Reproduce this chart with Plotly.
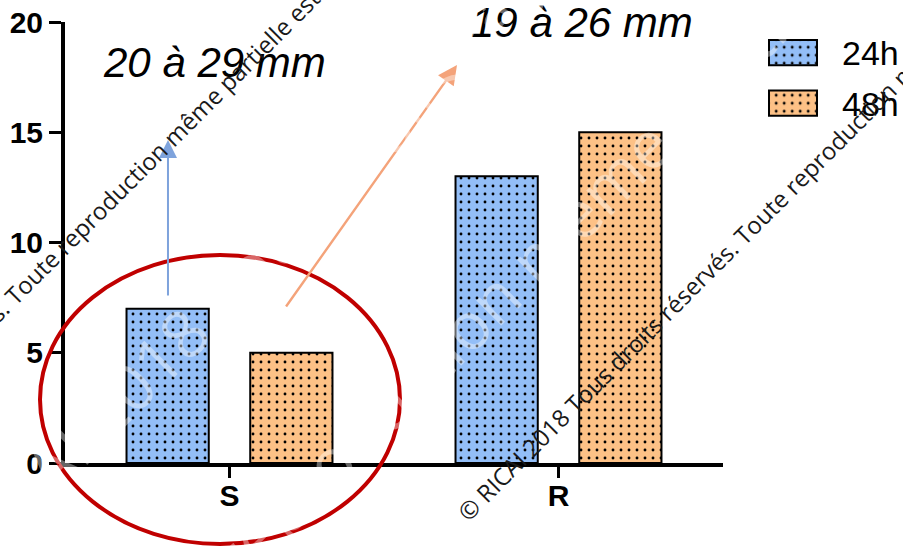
import plotly.graph_objects as go

# ---- data ----
categories = ["S", "R"]
series_names = ["24h", "48h"]
values_24h = [7, 13]
values_48h = [5, 15]
y_ticks = [0, 5, 10, 15, 20]
label_left = "20 à 29 mm"
label_right = "19 à 26 mm"
watermark = "© RICAI 2018 Tous droits réservés. Toute reproduction même partielle est interdite"

W, H = 903, 546
BLUE = "#93bef7"
ORANGE = "#fdc186"
FONT = "Liberation Sans"


def px(x):
    return x / W


def py(y):
    return (H - y) / H


def pattern(bg):
    return dict(shape=".", size=8, solidity=0.1, fgcolor="black", bgcolor=bg, fillmode="replace")


fig = go.Figure()

fig.add_trace(go.Bar(
    x=categories, y=values_24h, name=series_names[0],
    offset=-0.313, width=0.25,
    marker=dict(color=BLUE, line=dict(color="black", width=2), pattern=pattern(BLUE)),
    showlegend=False,
))
fig.add_trace(go.Bar(
    x=categories, y=values_48h, name=series_names[1],
    offset=0.063, width=0.25,
    marker=dict(color=ORANGE, line=dict(color="black", width=2), pattern=pattern(ORANGE)),
    showlegend=False,
))

# legend swatches (drawn as bars on a tiny hidden subplot)
for name, col in zip(series_names, [BLUE, ORANGE]):
    fig.add_trace(go.Bar(
        x=[1], y=[name], orientation="h", xaxis="x2", yaxis="y2", width=0.5,
        marker=dict(color=col, line=dict(color="black", width=2), pattern=pattern(col)),
        showlegend=False, hoverinfo="skip",
    ))

annotations = []
# arrows
annotations.append(dict(
    x=-0.187, y=14.65, ax=-0.187, ay=7.53, xref="x", yref="y", axref="x", ayref="y",
    text="", showarrow=True, arrowhead=2, arrowsize=1.8, arrowwidth=2, arrowcolor="#7ea3dc",
))
annotations.append(dict(
    x=0.6915, y=18.05, ax=0.1687, ay=7.03, xref="x", yref="y", axref="x", ayref="y",
    text="", showarrow=True, arrowhead=2, arrowsize=1.6, arrowwidth=2.4, arrowcolor="#f4a37a",
))
# italic labels
annotations.append(dict(
    x=px(214), y=py(62), xref="paper", yref="paper", text=label_left, showarrow=False,
    font=dict(family=FONT, size=42, color="black", style="italic"),
    xanchor="center", yanchor="middle",
))
annotations.append(dict(
    x=px(582), y=py(23), xref="paper", yref="paper", text=label_right, showarrow=False,
    font=dict(family=FONT, size=42, color="black", style="italic"),
    xanchor="center", yanchor="middle",
))
# legend labels
for name, yc in zip(series_names, [53, 104]):
    annotations.append(dict(
        x=px(840), y=py(yc), xref="paper", yref="paper", text=name, showarrow=False,
        font=dict(family=FONT, size=34, color="black"),
        xanchor="left", yanchor="middle",
    ))
# faint large white watermarks
for cx, cy in [(812, -297), (224, 566), (1146, 54)]:
    annotations.append(dict(
        x=px(cx), y=py(cy), xref="paper", yref="paper", text=watermark, showarrow=False,
        textangle=-45, font=dict(family="Open Sans", size=66, color="rgba(255,255,255,0.4)"),
        xanchor="center", yanchor="middle",
    ))
# dark small watermarks
for cx, cy in [(59, 249), (788, 189)]:
    annotations.append(dict(
        x=px(cx), y=py(cy), xref="paper", yref="paper", text=watermark, showarrow=False,
        textangle=-45, font=dict(family="Open Sans", size=24, color="#1a1a1a"),
        xanchor="center", yanchor="middle",
    ))

fig.update_layout(
    width=W, height=H,
    margin=dict(l=0, r=0, t=0, b=0),
    paper_bgcolor="white", plot_bgcolor="white",
    barmode="overlay",
    showlegend=False,
    xaxis=dict(
        domain=[px(65), px(723)], anchor="y",
        type="category", categoryorder="array", categoryarray=categories,
        range=[-0.5, 1.5],
        showline=True, linecolor="black", linewidth=4,
        ticks="outside", ticklen=11, tickwidth=3, tickcolor="black",
        ticklabelstandoff=-8,
        tickfont=dict(family=FONT, size=30, color="black", weight="bold"),
        showgrid=False, zeroline=False, automargin=False,
    ),
    yaxis=dict(
        domain=[py(463), py(22)], anchor="x",
        range=[0, 20], tickvals=y_ticks,
        showline=True, linecolor="black", linewidth=4,
        ticks="outside", ticklen=12, tickwidth=3, tickcolor="black",
        tickfont=dict(family=FONT, size=30, color="black", weight="bold"),
        showgrid=False, zeroline=False, automargin=False,
    ),
    xaxis2=dict(domain=[px(764.2), px(821.8)], anchor="y2", range=[-0.1, 1.1], visible=False),
    yaxis2=dict(domain=[py(128.25), py(27.25)], anchor="x2", type="category",
                categoryorder="array", categoryarray=["48h", "24h"], range=[-0.5, 1.5],
                visible=False),
    annotations=annotations,
    shapes=[dict(
        type="circle", xref="paper", yref="paper",
        x0=px(40), x1=px(400), y0=py(544), y1=py(255),
        line=dict(color="#c00000", width=4),
    )],
)

fig.write_html(
    "out.html",
    config={"displayModeBar": False},
    post_script="document.body.style.margin='0';document.body.style.overflow='hidden';",
)
